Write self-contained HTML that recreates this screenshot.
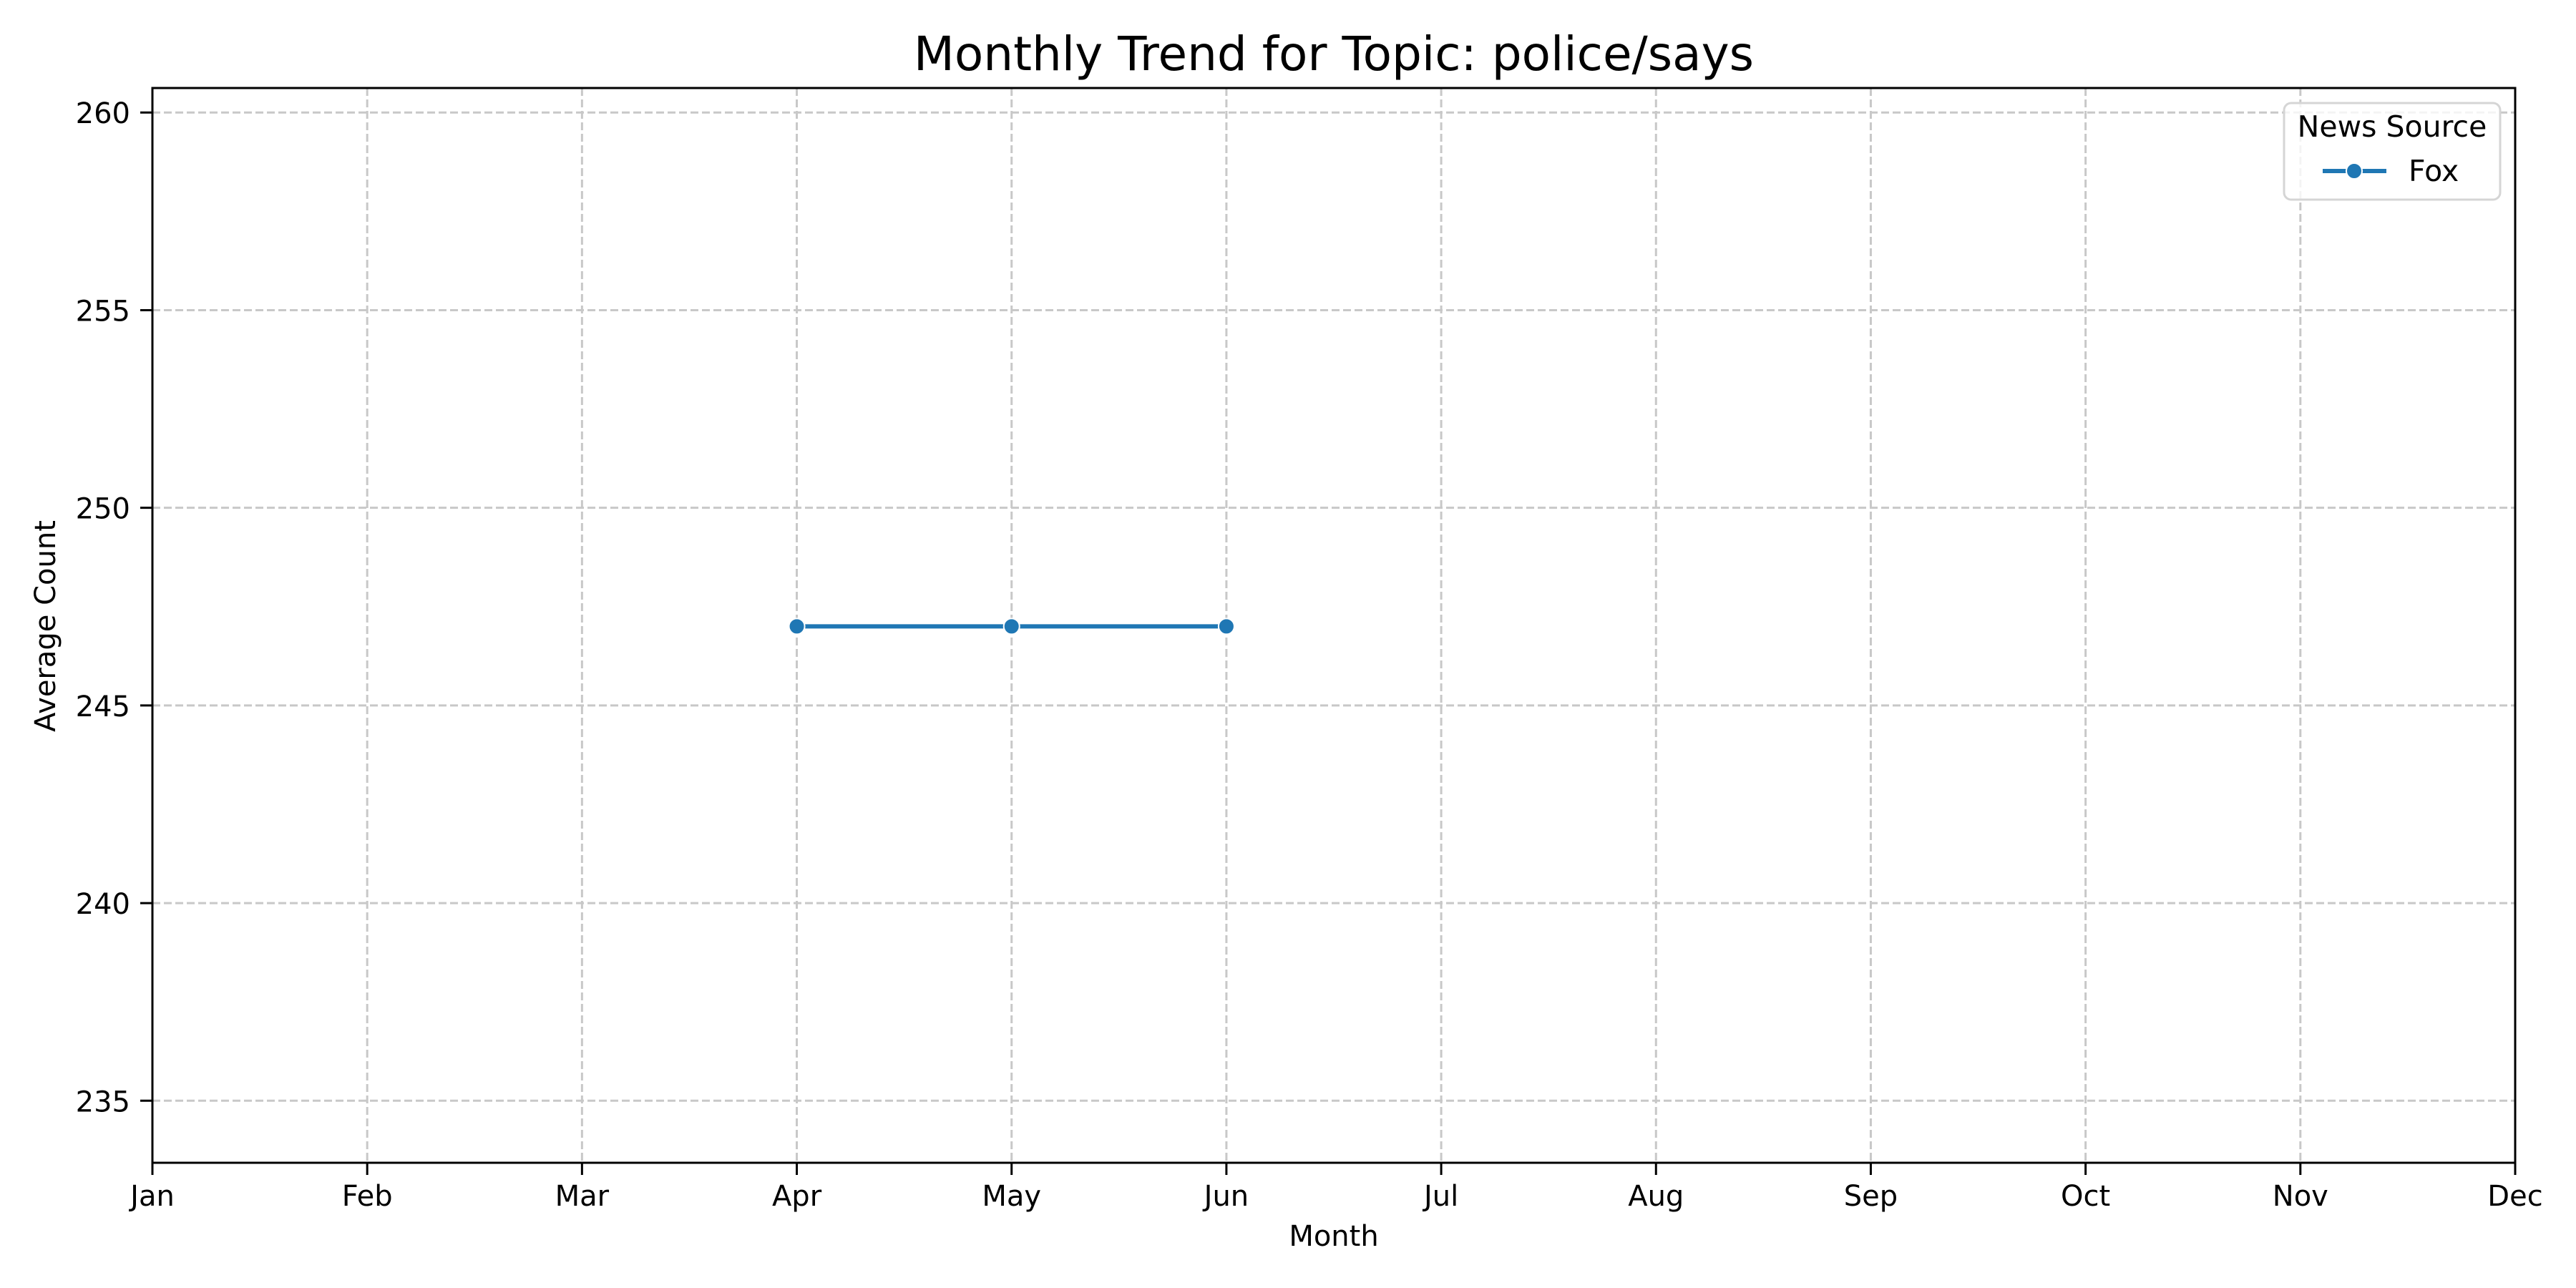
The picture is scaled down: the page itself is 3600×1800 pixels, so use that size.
<!DOCTYPE html>
<html><head><meta charset="utf-8"><style>
html,body{margin:0;padding:0;background:#fff;}
svg{display:block;font-family:"DejaVu Sans","Liberation Sans",sans-serif;}
</style></head><body>
<svg id="chart" width="3600" height="1800" viewBox="0 0 3600 1800" xmlns="http://www.w3.org/2000/svg">
<rect width="3600" height="1800" fill="#fff"/>
<text x="1864" y="98" font-size="66" text-anchor="middle">Monthly Trend for Topic: police/says</text>
<g id="grid"></g>
<g id="xticks"></g>
<g id="yticks"></g>
<g id="series"></g>
<rect x="213" y="123" width="3302" height="1502" fill="none" stroke="#000" stroke-width="3"/>
<text x="1864" y="1741" font-size="40" text-anchor="middle">Month</text>
<text x="0" y="0" font-size="40" text-anchor="middle" transform="translate(77,875) rotate(-90)">Average Count</text>
<g>
<rect x="3192" y="144" width="302" height="135" rx="10" fill="#fff" fill-opacity="0.8" stroke="#d5d5d5" stroke-width="3"/>
<text x="3343" y="191" font-size="41" text-anchor="middle">News Source</text>
<g>
<line x1="3246" y1="239" x2="3335" y2="239" stroke="#1f77b4" stroke-width="6"/>
<circle cx="3290" cy="239" r="11" fill="#1f77b4" stroke="#fff" stroke-width="2"/>
<text x="3366" y="253" font-size="41">Fox</text>
</g></g>
</svg>
<script>
const months = ["Jan","Feb","Mar","Apr","May","Jun","Jul","Aug","Sep","Oct","Nov","Dec"];
const yTicks = [235,240,245,250,255,260];
const foxMonths = [3,4,5];
const foxValues = [247,247,247];

const L=213,R=3515,T=123,B=1625,YMIN=233.43,YMAX=260.62;
const NS="http://www.w3.org/2000/svg";
function xs(i){return L+(R-L)*i/11;}
function ys(v){return B-(B-T)*(v-YMIN)/(YMAX-YMIN);}
function mk(tag,attrs,parent){const e=document.createElementNS(NS,tag);for(const k in attrs)e.setAttribute(k,attrs[k]);parent.appendChild(e);return e;}
const grid=document.getElementById('grid'),xg=document.getElementById('xticks'),yg=document.getElementById('yticks'),sg=document.getElementById('series');
months.forEach((m,i)=>{
  const x=xs(i);
  const gl=mk('line',{x1:x,x2:x,y1:T,y2:B,stroke:'#c8c8c8','stroke-width':3,'stroke-dasharray':'11,5'},grid);
  
  
  const tk=mk('line',{x1:x,x2:x,y1:B,y2:B+17,stroke:'#000','stroke-width':3},xg);
  
  
  const t=mk('text',{x:x,y:1685,'font-size':40,'text-anchor':'middle'},xg);
  t.textContent=m;
  
  
});
yTicks.forEach(v=>{
  const y=ys(v);
  const gl=mk('line',{x1:L,x2:R,y1:y,y2:y,stroke:'#c8c8c8','stroke-width':3,'stroke-dasharray':'11,5'},grid);
  
  
  const tk=mk('line',{x1:L-17,x2:L,y1:y,y2:y,stroke:'#000','stroke-width':3},yg);
  
  
  const t=mk('text',{x:182,y:y+15,'font-size':40,'text-anchor':'end'},yg);
  t.textContent=v;
  
  
});
const pts=foxMonths.map((m,i)=>xs(m)+','+ys(foxValues[i])).join(' ');
const pl=mk('polyline',{points:pts,fill:'none',stroke:'#1f77b4','stroke-width':6},sg);


foxMonths.forEach((m,i)=>{
  const c=mk('circle',{cx:xs(m),cy:ys(foxValues[i]),r:11,fill:'#1f77b4',stroke:'#fff','stroke-width':2},sg);
  
  
});
</script>
</body></html>
